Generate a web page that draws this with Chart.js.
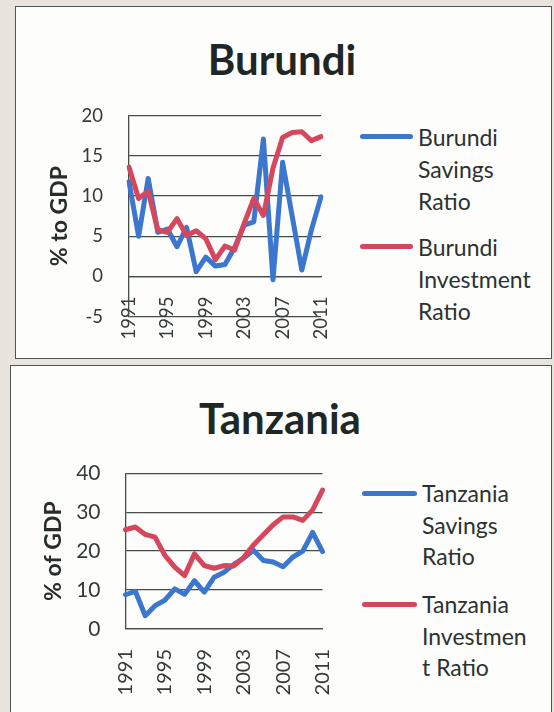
<!DOCTYPE html>
<html>
<head>
<meta charset="utf-8">
<script src="https://cdn.jsdelivr.net/npm/chart.js@4.4.1/dist/chart.umd.min.js"></script>
<style>
  html, body { margin: 0; padding: 0; }
  body { width: 554px; height: 712px; overflow: hidden; background: #e9e5dc; position: relative; font-family: Lato, "Open Sans", sans-serif; }
  .panel { position: absolute; background: #fdfdfb; border: 1.5px solid #4f5553; box-sizing: border-box; }
  #p1 { left: 15px; top: 6px; width: 537px; height: 353px; }
  #p2 { left: 10px; top: 365px; width: 542px; height: 360px; }
  canvas { position: absolute; }
  #c1 { left: 0; top: 0; }
  #c2 { left: 0; top: 362px; }
  .title { position: absolute; font-weight: 700; font-size: 42px; line-height: 42px; color: #1e2725; white-space: nowrap; transform: translateX(-50%); }
  .lg-text { position: absolute; font-size: 23px; color: #2b3230; white-space: nowrap; }
  .lg-line { position: absolute; height: 5px; border-radius: 2.5px; }
</style>
</head>
<body>
<div class="panel" id="p1"></div>
<div class="panel" id="p2"></div>

<div class="title" style="left:282px; top:38px;">Burundi</div>
<div class="title" style="left:280px; top:397px;">Tanzania</div>

<div class="lg-line" style="left:360px; top:134px; width:53px; background:#3b76cf;"></div>
<div class="lg-text" style="left:418px; top:121px; line-height:32px;">Burundi<br>Savings<br>Ratio</div>
<div class="lg-line" style="left:360px; top:244px; width:53px; background:#d6465c;"></div>
<div class="lg-text" style="left:418px; top:231px; line-height:32px;">Burundi<br>Investment<br>Ratio</div>

<div class="lg-line" style="left:362px; top:491px; width:55px; background:#3b76cf;"></div>
<div class="lg-text" style="left:422px; top:478px; line-height:31.5px;">Tanzania<br>Savings<br>Ratio</div>
<div class="lg-line" style="left:362px; top:602px; width:55px; background:#d6465c;"></div>
<div class="lg-text" style="left:422px; top:589px; line-height:31.5px;">Tanzania<br>Investmen<br>t Ratio</div>

<canvas id="c1" width="554" height="360" style="width:554px;height:360px;"></canvas>
<canvas id="c2" width="554" height="350" style="width:554px;height:350px;"></canvas>

<script>
// ---- Data ----
const years = ['1991','1992','1993','1994','1995','1996','1997','1998','1999','2000','2001','2002','2003','2004','2005','2006','2007','2008','2009','2010','2011'];
const shownYears = ['1991','1995','1999','2003','2007','2011'];

const burundiSavings    = [11.8, 5.0, 12.2, 5.5, 5.9, 3.7, 6.1, 0.6, 2.4, 1.3, 1.5, 3.6, 6.4, 6.8, 17.1, -0.4, 14.2, 7.5, 0.8, 5.8, 9.9];
const burundiInvestment = [13.6, 9.7, 10.6, 5.8, 5.5, 7.2, 5.1, 5.7, 4.7, 2.1, 3.8, 3.3, 6.6, 9.7, 7.6, 13.5, 17.3, 17.9, 18.0, 16.9, 17.4];

const tanzaniaSavings    = [8.8, 9.7, 3.4, 6.0, 7.4, 10.3, 8.9, 12.4, 9.5, 13.3, 14.6, 16.6, 18.2, 20.2, 17.6, 17.2, 16.0, 18.5, 20.0, 24.8, 19.9];
const tanzaniaInvestment = [25.5, 26.2, 24.3, 23.6, 18.9, 15.9, 13.7, 19.3, 16.3, 15.6, 16.3, 16.2, 18.4, 21.6, 24.2, 26.8, 28.8, 28.8, 27.9, 30.6, 35.7];

// ---- Styling ----
const BLUE = '#3b76cf';
const RED = '#d6465c';
const GRID = '#464c4a';
const TICK = '#343a39';

Chart.defaults.font.family = 'Lato, "Open Sans", sans-serif';

function makeChart(id, cfg) {
  return new Chart(document.getElementById(id), {
    type: 'line',
    data: {
      labels: years,
      datasets: [
        { label: cfg.savingsLabel, data: cfg.savings, borderColor: BLUE, backgroundColor: BLUE, order: 1 },
        { label: cfg.investLabel, data: cfg.invest, borderColor: RED, backgroundColor: RED, order: 0 }
      ]
    },
    options: {
      responsive: false,
      animation: false,
      events: [],
      elements: {
        line: { tension: 0, borderWidth: 5, borderCapStyle: 'round', borderJoinStyle: 'round' },
        point: { radius: 0, hoverRadius: 0 }
      },
      layout: { padding: cfg.padding },
      plugins: { legend: { display: false }, title: { display: false }, tooltip: { enabled: false } },
      scales: {
        x: {
          type: 'category',
          position: { y: 0 },
          offset: false,
          grid: { color: 'rgba(0,0,0,0)', drawTicks: false },
          border: { display: true, color: GRID, width: 1.3 },
          ticks: {
            autoSkip: false, minRotation: 90, maxRotation: 90,
            padding: cfg.xPad, color: TICK, font: { size: cfg.xFont },
            callback: function(v, i) { return shownYears.includes(years[i]) ? years[i] : ''; }
          }
        },
        y: {
          min: cfg.yMin, max: cfg.yMax,
          afterFit: function(s) { s.width = cfg.yWidth; },
          grid: { color: GRID, lineWidth: 1.3, drawTicks: false },
          border: { display: true, color: GRID, width: 1.3 },
          ticks: { stepSize: cfg.yStep, padding: cfg.yPad, color: TICK, font: { size: cfg.yFont } },
          title: { display: true, text: cfg.yTitle, color: '#262d2b', font: { size: 23, weight: 'bold' }, padding: { top: cfg.titlePad, bottom: 0 } }
        }
      }
    }
  });
}

makeChart('c1', {
  savingsLabel: 'Burundi Savings Ratio', investLabel: 'Burundi Investment Ratio',
  savings: burundiSavings, invest: burundiInvestment,
  padding: { top: 115.7, bottom: 43.3, left: 0, right: 233 },
  yMin: -5, yMax: 20, yStep: 5, yWidth: 129, yPad: 26, yFont: 18.5,
  xPad: 20, xFont: 18.5, yTitle: '% to GDP', titlePad: 46
});

makeChart('c2', {
  savingsLabel: 'Tanzania Savings Ratio', investLabel: 'Tanzania Investment Ratio',
  savings: tanzaniaSavings, invest: tanzaniaInvestment,
  padding: { top: 111.3, bottom: 83, left: 0, right: 231.5 },
  yMin: 0, yMax: 40, yStep: 10, yWidth: 125.5, yPad: 25, yFont: 21,
  xPad: 20, xFont: 20, yTitle: '% of GDP', titlePad: 40
});
</script>
</body>
</html>
